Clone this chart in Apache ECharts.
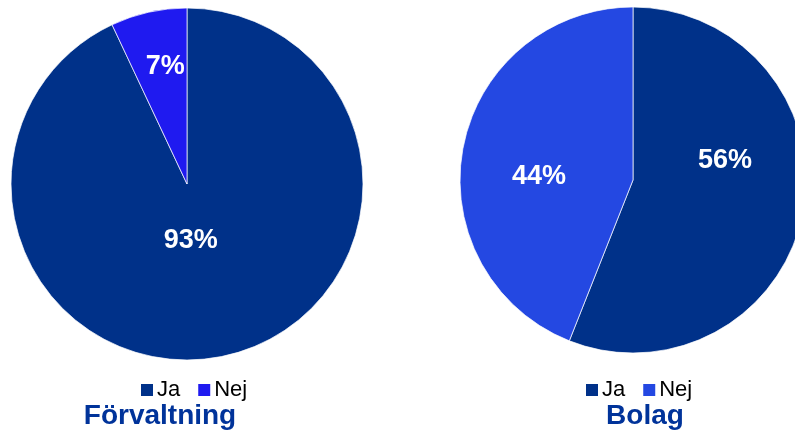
<!DOCTYPE html>
<html>
<head>
<meta charset="utf-8">
<script src="https://cdn.jsdelivr.net/npm/echarts@6/dist/echarts.min.js"></script>
<style>
  html, body { margin: 0; padding: 0; background: #ffffff; }
  #chart { width: 795px; height: 432px; }
</style>
</head>
<body>
<div id="chart"></div>
<script>
// Answer categories shared by both pies
const categories = ['Ja', 'Nej'];

// Share of answers (percent) per organisation type
const forvaltningValues = [93, 7];
const bolagValues = [56, 44];

// Panel titles
const panelTitles = ['Förvaltning', 'Bolag'];

const FONT = '"Liberation Sans", Arial, Helvetica, sans-serif';
const NAVY = '#003189';
const colorsLeft = [NAVY, '#1f1af0'];
const colorsRight = [NAVY, '#2448e2'];

// Small nudges to place the percent labels the way they sit in the slices
const labelNudges = [
  [[-16, -32], [-2, -29]],
  [[4, -36], [-6, 13]]
];

function pieData(values, colors) {
  return categories.map((name, i) => ({
    name: name,
    value: values[i],
    itemStyle: { color: colors[i] }
  }));
}

function pieSeries(idx, values, colors, center, radius) {
  return {
    type: 'pie',
    center: center,
    radius: radius,
    startAngle: 90,
    clockwise: true,
    animation: false,
    silent: true,
    itemStyle: { borderColor: 'rgba(255,255,255,0.7)', borderWidth: 1 },
    label: {
      show: true,
      position: 'inside',
      formatter: p => p.value + '%',
      color: '#ffffff',
      fontFamily: FONT,
      fontWeight: 'bold',
      fontSize: 27
    },
    labelLine: { show: false },
    labelLayout: function (params) {
      const n = labelNudges[idx][params.dataIndex];
      return { dx: n[0], dy: n[1] };
    },
    emphasis: { disabled: true },
    data: pieData(values, colors)
  };
}

function legendFor(colors, left) {
  return {
    left: left,
    top: 374,
    orient: 'horizontal',
    icon: 'rect',
    itemWidth: 12,
    itemHeight: 12,
    itemGap: 18,
    selectedMode: false,
    textStyle: { fontFamily: FONT, fontSize: 22, color: '#000000', padding: [0, 0, 0, -1] },
    data: categories.map((name, i) => ({
      name: name,
      itemStyle: { color: colors[i], borderWidth: 0 }
    }))
  };
}

const chart = echarts.init(document.getElementById('chart'), null, { renderer: 'canvas' });

chart.setOption({
  backgroundColor: '#ffffff',
  animation: false,
  legend: [legendFor(colorsLeft, 136), legendFor(colorsRight, 581)],
  series: [
    pieSeries(0, forvaltningValues, colorsLeft, [187, 184], 176),
    pieSeries(1, bolagValues, colorsRight, [633, 180], 173)
  ],
  graphic: [
    {
      type: 'text',
      x: 160, y: 416,
      style: {
        text: panelTitles[0],
        fill: '#00339a',
        font: 'bold 28px ' + FONT,
        textAlign: 'center',
        textVerticalAlign: 'middle'
      }
    },
    {
      type: 'text',
      x: 645, y: 416,
      style: {
        text: panelTitles[1],
        fill: '#00339a',
        font: 'bold 28px ' + FONT,
        textAlign: 'center',
        textVerticalAlign: 'middle'
      }
    }
  ]
});
</script>
</body>
</html>
